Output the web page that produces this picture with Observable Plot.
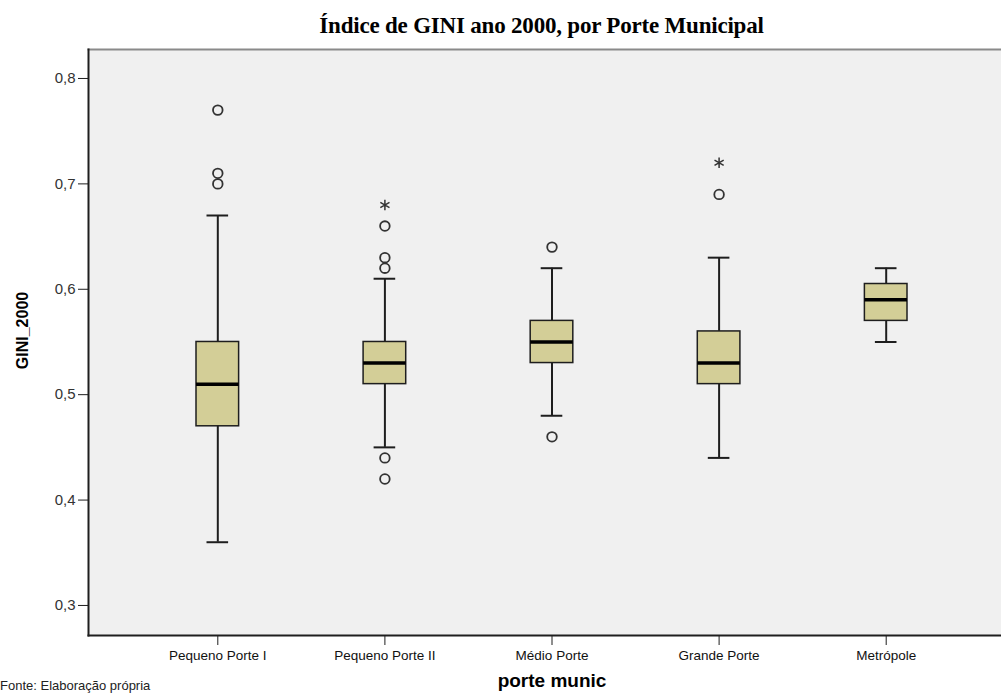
<!DOCTYPE html>
<html>
<head>
<meta charset="utf-8">
<script src="https://cdn.jsdelivr.net/npm/d3@7"></script>
<script src="https://cdn.jsdelivr.net/npm/@observablehq/plot@0.6"></script>
<style>
  html, body { margin: 0; padding: 0; background: #ffffff; overflow: hidden; width: 1001px; height: 694px; }
  #title { height: 40px; line-height: 52px; text-align: center; font-family: "Liberation Serif", "Times New Roman", serif; font-weight: bold; font-size: 23px; color: #000; padding-left: 82px; box-sizing: border-box; letter-spacing: -0.2px; }
  #chart svg { display: block; }
  g[aria-label="xlabel"] text { letter-spacing: 2px; }
  #caption { position: absolute; left: 0; top: 678px; line-height: 15px; font-family: "Liberation Sans", Arial, sans-serif; font-size: 13px; color: #222; white-space: nowrap; }
</style>
</head>
<body>
<div id="title">Índice de GINI ano 2000, por Porte Municipal</div>
<div id="chart"></div>
<div id="caption">Fonte: Elaboração própria</div>
<script>
// ---- data ----
const categories = ["Pequeno Porte I", "Pequeno Porte II", "Médio Porte", "Grande Porte", "Metrópole"];
const whiskerLow  = [0.36, 0.45, 0.48, 0.44, 0.55];
const q1          = [0.47, 0.51, 0.53, 0.51, 0.57];
const median      = [0.51, 0.53, 0.55, 0.53, 0.59];
const q3          = [0.55, 0.55, 0.57, 0.56, 0.605];
const whiskerHigh = [0.67, 0.61, 0.62, 0.63, 0.62];

const outlierCategory = ["Pequeno Porte I", "Pequeno Porte I", "Pequeno Porte I",
  "Pequeno Porte II", "Pequeno Porte II", "Pequeno Porte II", "Pequeno Porte II", "Pequeno Porte II",
  "Médio Porte", "Médio Porte", "Grande Porte"];
const outlierValue = [0.77, 0.71, 0.70, 0.66, 0.63, 0.62, 0.44, 0.42, 0.64, 0.46, 0.69];

const extremeCategory = ["Pequeno Porte II", "Grande Porte"];
const extremeValue = [0.68, 0.72];

const yTicks = [0.3, 0.4, 0.5, 0.6, 0.7, 0.8];

// ---- tables built from the arrays ----
const boxes = categories.map((c, i) => ({cat: c, lo: whiskerLow[i], q1: q1[i], med: median[i], q3: q3[i], hi: whiskerHigh[i]}));
const outliers = outlierCategory.map((c, i) => ({cat: c, v: outlierValue[i]}));
const extremes = extremeCategory.map((c, i) => ({cat: c, v: extremeValue[i]}));

const ink = "#1e1e1e";
const plot = Plot.plot({
  width: 1001,
  height: 654,
  marginTop: 9,
  marginBottom: 59,
  marginLeft: 88,
  marginRight: 0,
  style: {background: "transparent", fontFamily: "'Liberation Sans', Arial, sans-serif", fontSize: "13px", color: "#222"},
  x: {type: "band", domain: categories, range: [196, 907], paddingInner: 0.745, paddingOuter: 0, round: false, label: null},
  y: {domain: [0.2715, 0.8275], label: null},
  marks: [
    Plot.frame({fill: "#f0f0f0", stroke: null}),
    Plot.frame({anchor: "top", stroke: "#8a8a8a", strokeWidth: 2}),
    Plot.frame({anchor: "left", stroke: ink, strokeWidth: 2}),
    Plot.frame({anchor: "bottom", stroke: ink, strokeWidth: 2}),
    Plot.axisY({ticks: yTicks, tickSize: 10, tickPadding: 3, tickFormat: d => d3.format(".1f")(d).replace(".", ","), label: null, stroke: ink, fontSize: 15, fill: "#333"}),
    Plot.axisX({tickSize: 10, tickPadding: 5, label: null, stroke: ink, fontSize: 13.5, fill: "#111"}),
    Plot.ruleX(boxes, {x: "cat", y1: "lo", y2: "q1", stroke: ink, strokeWidth: 2}),
    Plot.ruleX(boxes, {x: "cat", y1: "q3", y2: "hi", stroke: ink, strokeWidth: 2}),
    Plot.tickY(boxes, {x: "cat", y: "lo", stroke: ink, strokeWidth: 2, insetLeft: 10.5, insetRight: 10.5}),
    Plot.tickY(boxes, {x: "cat", y: "hi", stroke: ink, strokeWidth: 2, insetLeft: 10.5, insetRight: 10.5}),
    Plot.barY(boxes, {x: "cat", y1: "q1", y2: "q3", fill: "#d3ce97", stroke: ink, strokeWidth: 1.5}),
    Plot.tickY(boxes, {x: "cat", y: "med", stroke: "#000", strokeWidth: 3.5}),
    Plot.dot(outliers, {x: "cat", y: "v", r: 4.8, stroke: "#333", strokeWidth: 1.8, fill: "none"}),
    Plot.dot(extremes, {x: "cat", y: "v", r: 5, symbol: "asterisk", stroke: "#333", strokeWidth: 1.5}),
    Plot.text(["GINI_2000"], {frameAnchor: "left", dx: -66, dy: -12, rotate: -90, textAnchor: "middle", text: d => d, fontWeight: "bold", fontSize: 16, fill: "#000"}),
    Plot.text(["porte munic"], {ariaLabel: "xlabel", frameAnchor: "bottom", dx: 7, dy: 51, text: d => d, fontWeight: "bold", fontSize: 19, fill: "#000"})
  ]
});
document.getElementById("chart").appendChild(plot);
</script>
</body>
</html>
